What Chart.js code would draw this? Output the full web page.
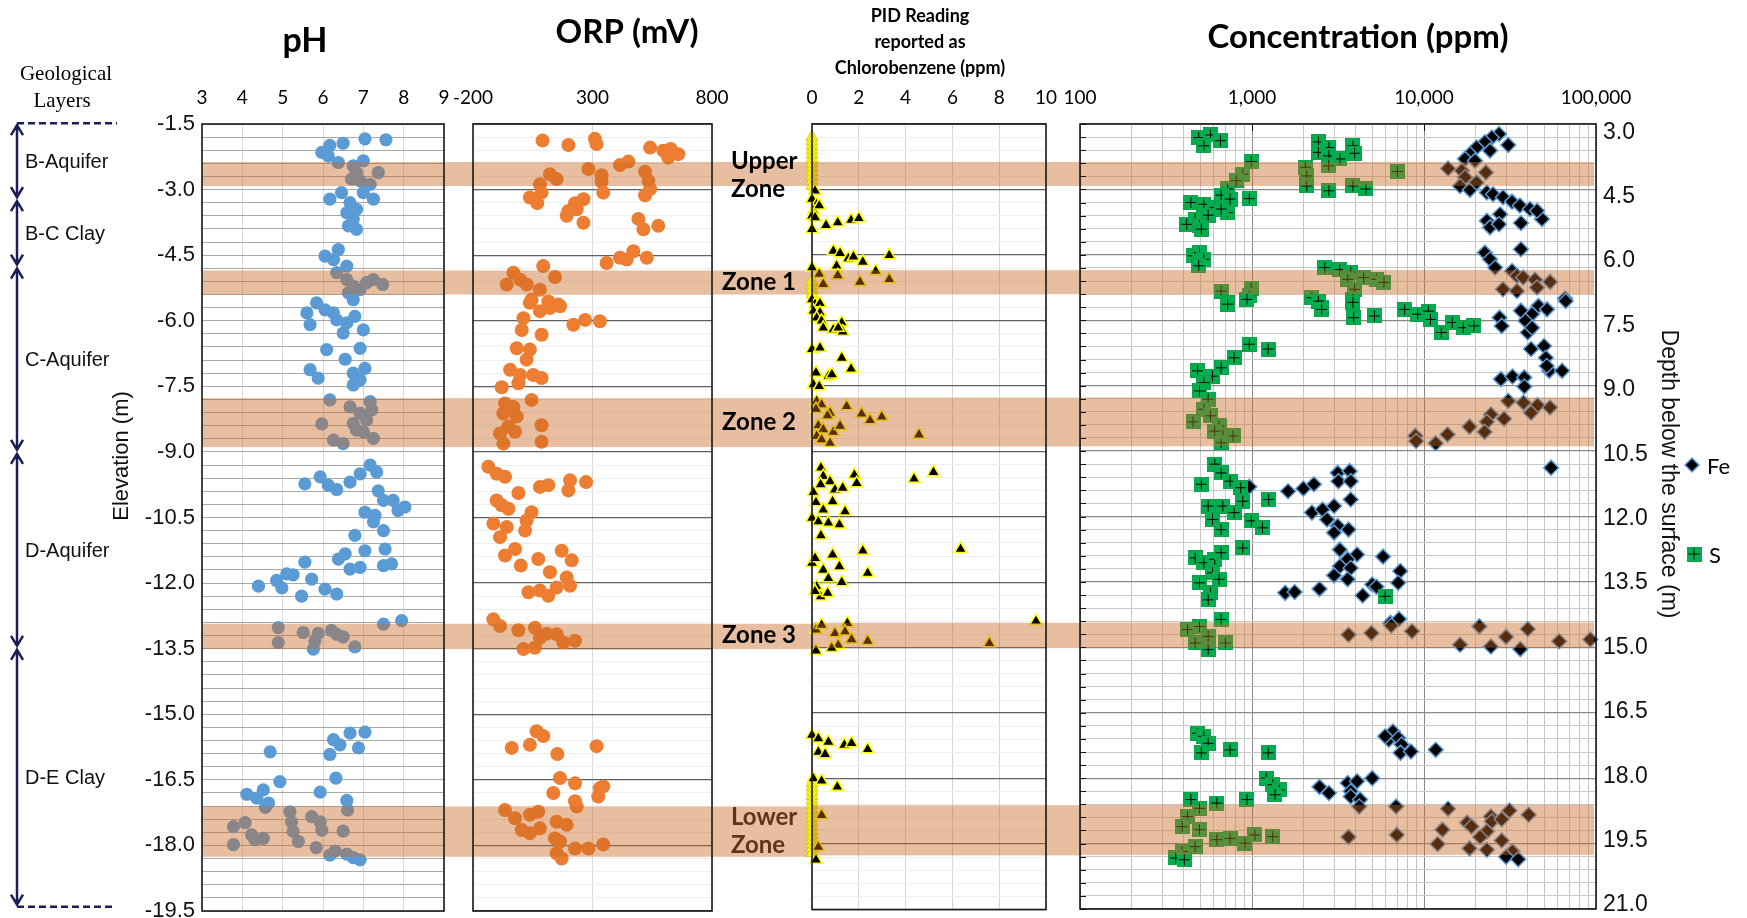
<!DOCTYPE html>
<html lang="en">
<head>
<meta charset="UTF-8">
<title>Geochemical depth profiles</title>
<script src="https://cdn.jsdelivr.net/npm/chart.js"></script>
<style>
  body { margin: 0; background: #fff; }
  #wrap { position: relative; width: 1747px; height: 918px; }
  #wrap canvas { position: absolute; left: 0; top: 0; }
</style>
</head>
<body>
<div id="wrap">
  <canvas id="phChart" width="1747" height="918"></canvas>
  <canvas id="orpChart" width="1747" height="918"></canvas>
  <canvas id="pidChart" width="1747" height="918"></canvas>
  <canvas id="concChart" width="1747" height="918"></canvas>
</div>
<script>
// ---- axis labels ----
const elevTicks = [-1.5, -3.0, -4.5, -6.0, -7.5, -9.0, -10.5, -12.0, -13.5, -15.0, -16.5, -18.0, -19.5];
const depthTicks = [3.0, 4.5, 6.0, 7.5, 9.0, 10.5, 12.0, 13.5, 15.0, 16.5, 18.0, 19.5, 21.0];
const concDecades = [100, 1000, 10000, 100000];
const concDecadeLabels = ['100', '1,000', '10,000', '100,000'];

// ---- zones (elevation, m) ----
const zoneNames = ['Upper\nZone', 'Zone 1', 'Zone 2', 'Zone 3', 'Lower\nZone'];
const zoneBands = [[-2.37, -2.92], [-4.85, -5.40], [-7.77, -8.89], [-12.93, -13.51], [-17.11, -18.26]];

// ---- geological layers ----
const layerNames = ['B-Aquifer', 'B-C Clay', 'C-Aquifer', 'D-Aquifer', 'D-E Clay'];
const layerBounds = [-1.48, -3.22, -4.76, -9.0, -13.48, -19.4];

// ---- pH [pH, elevation] ----
const phPoints = [
  [7.04,-1.84],[7.56,-1.86],[6.50,-1.94],[6.17,-1.99],[5.97,-2.15],[6.13,-2.23],[6.38,-2.38],[7.00,-2.34],[6.75,-2.46],[7.37,-2.61],
  [6.83,-2.61],[6.71,-2.76],[6.92,-2.80],[7.17,-2.88],[6.46,-3.07],[7.00,-3.07],[7.25,-3.22],[6.17,-3.22],[6.67,-3.30],[6.59,-3.53],
  [6.83,-3.45],[6.75,-3.68],[6.63,-3.83],[6.83,-3.91],
  [6.05,-4.52],[6.38,-4.37],[6.26,-4.60],[6.59,-4.75],[6.34,-4.90],[6.59,-5.06],[6.75,-5.21],[6.92,-5.29],[7.25,-5.06],[7.48,-5.17],
  [7.08,-5.13],[6.63,-5.36],[6.75,-5.52],
  [5.84,-5.59],[5.60,-5.82],[6.05,-5.75],[6.26,-5.82],[5.68,-6.09],[6.34,-5.98],[6.59,-6.05],[6.79,-5.90],[7.00,-6.21],[6.50,-6.28],
  [6.09,-6.66],[6.92,-6.63],[6.55,-6.88],[5.68,-7.12],[5.88,-7.31],[6.75,-7.20],[7.04,-7.09],[6.75,-7.47],[6.92,-7.35],
  [6.17,-7.81],[6.67,-7.97],[7.17,-7.85],[5.97,-8.36],[6.92,-8.12],[7.08,-8.27],[6.83,-8.50],[7.25,-8.69],[6.26,-8.73],[6.50,-8.81],
  [6.75,-8.35],[7.00,-8.54],[7.21,-8.04],
  [7.17,-9.30],[7.33,-9.46],[6.92,-9.50],[6.67,-9.69],[5.55,-9.73],[5.93,-9.57],[6.13,-9.76],[6.34,-9.86],[7.37,-9.89],[7.50,-10.11],
  [7.74,-10.11],[8.03,-10.26],[7.86,-10.34],[7.04,-10.38],[7.29,-10.45],[7.25,-10.60],[7.50,-10.80],[6.79,-10.91],[7.54,-11.22],[7.04,-11.26],
  [6.55,-11.33],[6.38,-11.45],[5.55,-11.52],[7.50,-11.60],[7.70,-11.56],[6.67,-11.68],[6.92,-11.64],[5.10,-11.79],[5.26,-11.81],[4.85,-11.94],
  [5.72,-11.91],[4.40,-12.07],[4.98,-12.11],[6.05,-12.14],[6.34,-12.25],[5.47,-12.30],
  [7.50,-12.94],[7.95,-12.86],[4.89,-13.02],[4.89,-13.36],[5.51,-13.13],[5.80,-13.32],[5.88,-13.15],[6.21,-13.08],[6.50,-13.23],[6.79,-13.46],
  [5.76,-13.51],[6.34,-13.17],
  [7.04,-15.41],[6.67,-15.43],[6.26,-15.58],[6.42,-15.70],[6.88,-15.77],[6.17,-15.92],[4.69,-15.86],[4.93,-16.54],[6.32,-16.46],[5.93,-16.78],
  [4.11,-16.83],[4.52,-16.73],[4.36,-16.92],[4.65,-17.03],[6.59,-16.97],[6.61,-17.19],[4.57,-17.13],[5.18,-17.23],[5.22,-17.46],[3.78,-17.57],
  [4.07,-17.48],[5.26,-17.68],[5.72,-17.34],[5.93,-17.46],[5.97,-17.65],[6.50,-17.67],[4.23,-17.76],[4.52,-17.84],[4.31,-17.87],[5.39,-17.91],
  [3.78,-17.98],[5.83,-18.05],[6.17,-18.22],[6.30,-18.13],[6.59,-18.20],[6.75,-18.28],[6.92,-18.33]
];

// ---- ORP [mV, elevation] ----
const orpPoints = [
  [91,-1.88],[199,-1.98],[310,-1.84],[317,-1.96],[541,-2.04],[596,-2.11],[627,-2.07],[659,-2.19],[617,-2.27],[415,-2.44],
  [450,-2.36],[283,-2.53],[338,-2.67],[520,-2.59],[534,-2.80],[541,-2.99],[520,-3.13],[122,-2.65],[150,-2.76],[80,-2.88],
  [338,-2.82],[345,-3.07],[38,-3.18],[69,-3.31],[87,-3.07],[262,-3.22],[227,-3.31],[199,-3.49],[192,-3.60],[234,-3.45],
  [262,-3.76],[492,-3.67],[513,-3.91],[575,-3.83],[527,-4.56],[471,-4.41],[415,-4.56],[443,-4.60],[359,-4.68],
  [94,-4.75],[-31,-4.90],[-59,-5.17],[-3,-5.06],[25,-5.17],[143,-5.00],[80,-5.29],[45,-5.52],[115,-5.56],[157,-5.63],
  [38,-5.59],[80,-5.78],[122,-5.71],[164,-5.67],[11,-5.94],[4,-6.21],[87,-6.32],[220,-6.09],[269,-5.98],[331,-6.01],
  [-17,-6.63],[38,-6.66],[24,-6.89],[-45,-7.12],[-3,-7.24],[52,-7.24],[87,-7.31],[-80,-7.52],[-10,-7.43],[-66,-7.89],
  [-31,-7.97],[45,-7.81],[-73,-8.12],[-17,-8.19],[-52,-8.42],[87,-8.39],[-87,-8.58],[-24,-8.54],[-73,-8.81],[87,-8.77],
  [-136,-9.34],[-101,-9.50],[-66,-9.57],[-10,-9.94],[80,-9.80],[115,-9.76],[199,-9.88],[206,-9.65],[273,-9.69],[-101,-10.11],
  [-52,-10.30],[-80,-10.22],[45,-10.38],[24,-10.57],[-115,-10.64],[-59,-10.72],[-87,-10.95],[18,-10.80],[-24,-11.22],[-66,-11.37],
  [171,-11.26],[213,-11.48],[0,-11.60],[73,-11.45],[122,-11.75],[192,-11.87],[206,-12.06],[32,-12.21],[80,-12.17],[115,-12.29],[150,-12.10],
  [-115,-12.83],[-87,-12.98],[-10,-13.08],[59,-13.02],[108,-13.16],[150,-13.17],[178,-13.36],[227,-13.32],[11,-13.51],[59,-13.48],[80,-13.25],
  [66,-15.39],[94,-15.50],[38,-15.70],[-38,-15.77],[153,-15.91],[317,-15.73],[164,-16.46],[227,-16.58],[136,-16.80],[331,-16.69],
  [345,-16.65],[324,-16.88],[227,-16.99],[234,-17.11],[-66,-17.19],[-24,-17.38],[38,-17.30],[73,-17.23],[4,-17.65],[38,-17.72],
  [80,-17.61],[150,-17.46],[192,-17.53],[143,-17.84],[164,-17.91],[227,-18.07],[283,-18.07],[345,-17.98],[171,-18.30],[150,-18.18]
];

// ---- PID as chlorobenzene [ppm, elevation] ----
const pidPoints = [
  [0.13,-3.03],[0,-3.22],[0.2,-3.34],[0.06,-3.49],[0.31,-3.37],[0,-3.60],[0.13,-3.64],[0,-3.91],[0.6,-3.82],[1.1,-3.76],
  [1.67,-3.70],[2.0,-3.66],[0.91,-4.41],[1.2,-4.46],[1.05,-4.75],[1.55,-4.58],[1.77,-4.54],[2.17,-4.66],[3.3,-4.51],[0,-4.79],
  [0.31,-4.94],[0.48,-5.17],[1.1,-4.97],[2.05,-5.12],[2.72,-4.87],[3.3,-5.06],[0,-5.52],[0.13,-5.63],[0.34,-5.61],[0.06,-5.78],
  [0.34,-5.82],[0.2,-5.94],[0.41,-6.01],[0.48,-6.17],[0.91,-6.21],[1.27,-6.05],[1.31,-6.26],[1.12,-6.17],[0,-6.66],[0.34,-6.63],
  [1.27,-6.86],[1.67,-7.11],[0.17,-7.20],[0.7,-7.28],[0.85,-7.24],[0.06,-7.47],[0.31,-7.51],
  [0.2,-7.85],[0.41,-7.93],[0.17,-8.03],[0.77,-8.12],[0.66,-8.18],[1.48,-7.97],[2.12,-8.14],[2.48,-8.29],[2.98,-8.21],[0.27,-8.41],
  [0.48,-8.50],[0.2,-8.65],[0.91,-8.56],[1.2,-8.42],[0.41,-8.73],[0.77,-8.81],[4.57,-8.62],
  [0.38,-9.38],[0.48,-9.57],[0.77,-9.69],[0.37,-9.76],[0.98,-9.88],[1.31,-9.84],[1.81,-9.54],[1.91,-9.73],[4.36,-9.63],[5.19,-9.48],
  [0.06,-9.94],[0.17,-10.17],[0.48,-10.34],[0.88,-10.15],[1.41,-10.38],[0,-10.53],[0.27,-10.61],[0.7,-10.64],[1.17,-10.68],[0.38,-10.93],
  [2.17,-11.28],[6.35,-11.24],[2.38,-11.79],[0,-11.56],[0.13,-11.45],[0.88,-11.37],[1.17,-11.64],[0.48,-11.72],[0.7,-11.91],[1.27,-12.00],
  [0.2,-12.10],[0.37,-12.33],[0.67,-12.25],[0.13,-12.21],
  [0.17,-13.09],[0.41,-12.98],[0.98,-13.17],[1.51,-12.94],[1.41,-13.13],[1.69,-13.31],[2.38,-13.35],[1.12,-13.44],[0.84,-13.51],[0.17,-13.57],
  [7.58,-13.40],[9.57,-12.89],
  [0,-15.50],[0.27,-15.58],[0.7,-15.66],[0.27,-15.89],[0.56,-15.94],[1.38,-15.73],[1.69,-15.69],[2.38,-15.83],[0.06,-16.50],[0.41,-16.55],
  [1.08,-16.69],[0.41,-17.34],[0.27,-18.07],[0.17,-18.36]
];
const pidZeroPoints = [
  [0,-1.80],[0,-1.90],[0,-2.00],[0,-2.10],[0,-2.20],[0,-2.30],[0,-2.40],[0,-2.50],[0,-2.60],[0,-2.70],[0,-2.80],[0,-2.92],
  [0,-5.10],[0,-5.20],[0,-5.30],[0,-5.40],
  [0,-16.60],[0,-16.70],[0,-16.80],[0,-16.90],[0,-17.00],[0,-17.10],[0,-17.20],[0,-17.30],[0,-17.40],[0,-17.50],
  [0,-17.60],[0,-17.70],[0,-17.80],[0,-17.90],[0,-18.00],[0,-18.10],[0,-18.20]
];

// ---- Fe [ppm, elevation] ----
const fePoints = [
  [27300,-1.73],[24800,-1.81],[30900,-1.98],[22600,-1.92],[20200,-2.04],[24200,-2.11],[18500,-2.19],[17300,-2.30],[19800,-2.34],[13800,-2.52],
  [16600,-2.57],[17300,-2.72],[22900,-2.61],[16200,-2.92],[18500,-3.01],[20200,-2.84],[23200,-3.07],[25200,-3.11],[28800,-3.18],[32500,-3.28],
  [36100,-3.37],[41300,-3.45],[48500,-3.68],[45400,-3.49],[27700,-3.57],[23200,-3.72],[24200,-3.87],[27300,-3.80],[36600,-3.77],
  [36600,-4.37],[22600,-4.45],[24200,-4.60],[25900,-4.79],[32500,-4.87],[34700,-4.98],[37700,-5.02],[28800,-5.29],[34700,-5.33],[44200,-5.07],
  [45400,-5.25],[54100,-5.12],[66100,-5.50],
  [66700,-5.56],[36600,-5.78],[46300,-5.67],[51900,-5.75],[42500,-5.86],[27500,-5.94],[28300,-6.13],[38900,-6.01],[40100,-6.28],[42500,-6.17],
  [41900,-6.66],[49900,-6.59],[51100,-6.86],[53500,-7.16],[63500,-7.16],[51700,-7.05],[28000,-7.35],[32700,-7.29],[38300,-7.31],[38300,-7.52],
  [30900,-7.85],[37900,-7.89],[45700,-7.95],[54000,-8.00],[41900,-8.12],[24500,-8.16],[29200,-8.26],[23200,-8.33],[18400,-8.44],[22500,-8.56],
  [13700,-8.62],[11700,-8.82],[8900,-8.65],[9000,-8.77],[54800,-9.38],
  [964,-9.82],[1620,-9.92],[1990,-9.86],[2290,-9.76],[3150,-9.50],[3700,-9.46],[3180,-9.69],[3750,-9.69],[3750,-10.11],[2230,-10.41],
  [2570,-10.34],[3000,-10.26],[2730,-10.57],[3150,-10.72],[3640,-10.80],[3000,-10.87],[3240,-11.26],[4080,-11.37],[5780,-11.42],[3600,-11.48],
  [3240,-11.64],[3750,-11.68],[3000,-11.85],[3600,-11.94],[5000,-12.06],[7280,-11.75],[7080,-12.02],[1560,-12.25],[1770,-12.23],[2470,-12.16],
  [4400,-12.31],[5290,-12.11],
  [6380,-12.94],[7160,-12.85],[6450,-13.00],[8510,-13.13],[3640,-13.21],[4950,-13.17],[16200,-13.44],[21000,-13.02],[24500,-13.48],[30000,-13.26],
  [40100,-13.08],[36300,-13.54],[61100,-13.36],[92700,-13.32],
  [6600,-15.43],[6240,-15.62],[7100,-15.58],[7410,-15.73],[7300,-15.92],[8400,-15.89],[5950,-15.54],[11700,-15.85],
  [2470,-16.70],[2800,-16.84],[3600,-16.61],[4080,-16.57],[5000,-16.50],[3750,-16.80],[3750,-16.92],[4250,-16.99],
  [4200,-17.15],[6880,-17.15],[13800,-17.20],[3640,-17.85],[6950,-17.80],[12800,-17.68],[12000,-18.01],[17800,-17.52],[18900,-17.61],[24500,-17.38],
  [24800,-17.49],[28300,-17.44],[31400,-17.24],[40600,-17.34],[23200,-17.72],[21200,-17.85],[18400,-18.11],[23200,-18.14],[28300,-17.93],[32700,-18.18],
  [30000,-18.30],[35300,-18.36]
];

// ---- S [ppm, elevation] ----
const sPoints = [
  [490,-1.81],[573,-1.75],[655,-1.88],[525,-2.00],[990,-2.36],[883,-2.65],[809,-2.80],[721,-2.99],[661,-3.13],[745,-3.22],
  [964,-3.21],[441,-3.30],[525,-3.34],[607,-3.41],[721,-3.53],[661,-3.45],[556,-3.59],[467,-3.68],[417,-3.80],[495,-3.83],
  [507,-3.91],[454,-4.52],[495,-4.45],[525,-4.60],[490,-4.75],
  [2430,-1.91],[2800,-2.04],[2430,-2.15],[2800,-2.23],[3240,-2.30],[3860,-2.00],[3950,-2.17],[2790,-2.46],[2040,-2.49],[2080,-2.69],
  [2080,-2.92],[2800,-3.03],[3860,-2.92],[4590,-2.99],[7000,-2.59],
  [2650,-4.79],[3240,-4.84],[3750,-4.90],[3600,-5.06],[4460,-5.02],[5290,-5.06],[5850,-5.13],[3950,-5.29],[3860,-5.52],[2230,-5.48],
  [2540,-5.71],[661,-5.33],[721,-5.59],[990,-5.27],[964,-5.44],
  [721,-5.63],[935,-5.52],[2430,-5.56],[2540,-5.75],[3860,-5.59],[3900,-5.94],[5150,-5.90],[7710,-5.75],[9180,-5.86],[10600,-5.79],
  [10900,-5.98],[12600,-6.28],[14600,-6.05],[16900,-6.17],[19500,-6.13],[964,-6.55],[1240,-6.66],[786,-6.86],[661,-7.09],[482,-7.16],
  [589,-7.28],[525,-7.43],[495,-7.62],[556,-7.81],[525,-8.04],[454,-8.33],[573,-8.19],[643,-8.42],[676,-8.65],[776,-8.65],
  [661,-8.81],[607,-8.54],
  [607,-9.30],[661,-9.50],[507,-9.76],[745,-9.69],[859,-9.84],[883,-10.15],[1250,-10.11],[556,-10.26],[676,-10.26],[786,-10.41],
  [990,-10.60],[1150,-10.76],[589,-10.57],[661,-10.80],[883,-11.22],[467,-11.45],[525,-11.56],[607,-11.48],[661,-11.33],[589,-11.79],
  [495,-12.02],[643,-11.94],[573,-12.25],[5940,-12.33],
  [556,-12.41],[661,-12.86],[422,-13.09],[495,-13.02],[556,-13.25],[467,-13.40],[556,-13.55],[700,-13.40],
  [482,-15.47],[525,-15.54],[556,-15.70],[507,-15.92],[745,-15.85],[1240,-15.92],[1210,-16.50],[1320,-16.65],[1440,-16.77],[1360,-16.88],
  [935,-16.99],[441,-16.99],[624,-17.07],[495,-17.19],[422,-17.38],[393,-17.61],[495,-17.68],[624,-17.91],[745,-17.88],[910,-17.99],
  [1040,-17.80],[1320,-17.84],[467,-18.07],[393,-18.18],[360,-18.33],[404,-18.37]
];

// ---- styling helpers ----
const SANS = '"Liberation Sans", Arial, sans-serif';
const CAL = 'Lato, "Open Sans", sans-serif';
const SERIF = '"Liberation Serif", "Times New Roman", serif';
const BAND_FILL = 'rgba(200,105,35,0.43)';
const NAVY = '#1c1f55';

function isMajor(v) {
  const r = v / 1.5;
  return Math.abs(r - Math.round(r)) < 1e-6;
}
function elevLabel(v) {
  const r = Math.round(v * 10) / 10;
  return elevTicks.some(t => Math.abs(t - r) < 1e-6) ? r.toFixed(1) : '';
}
function xy(points) {
  return points.map(p => ({ x: p[0], y: p[1] }));
}
// keep label overhang from shrinking the plot area, so all panels share one height
function fixVertical(width) {
  return s => { s.width = width; s.paddingTop = 0; s.paddingBottom = 0; };
}

function squareCross() {
  const c = document.createElement('canvas');
  c.width = 15; c.height = 15;
  const g = c.getContext('2d');
  g.fillStyle = '#00b050';
  g.fillRect(0, 0, 15, 15);
  g.strokeStyle = '#13a04a';
  g.lineWidth = 1;
  g.strokeRect(0.5, 0.5, 14, 14);
  g.strokeStyle = '#000';
  g.beginPath();
  g.moveTo(7.5, 2); g.lineTo(7.5, 13);
  g.moveTo(2, 7.5); g.lineTo(13, 7.5);
  g.stroke();
  return c;
}
const sMarker = squareCross();

// elevation axis shared by every panel
function elevAxis(showLabels, width, major, minor, majorW) {
  return {
    type: 'linear', position: 'left', min: -19.5, max: -1.5,
    afterFit: fixVertical(width),
    ticks: {
      stepSize: 0.3, autoSkip: false, display: showLabels, padding: 7,
      font: { family: SANS, size: 22 }, color: '#111',
      callback: v => elevLabel(v)
    },
    grid: {
      drawTicks: false,
      color: c => (c.tick && isMajor(c.tick.value)) ? major : minor,
      lineWidth: c => (c.tick && isMajor(c.tick.value)) ? majorW : 1
    },
    border: { display: false }
  };
}
function topAxis(min, max, step, gridColor) {
  return {
    type: 'linear', position: 'top', min: min, max: max,
    afterFit: s => { s.height = 60; },
    ticks: { stepSize: step, autoSkip: false, maxRotation: 0, padding: 15,
             font: { family: CAL, size: 19 }, color: '#000' },
    grid: { drawTicks: false, color: gridColor, lineWidth: 1 },
    border: { display: false }
  };
}

// ---- plugins ----
const framePlugin = {
  id: 'frame',
  afterDraw(chart) {
    const { ctx, chartArea: a } = chart;
    ctx.save();
    ctx.strokeStyle = '#1a1a1a';
    ctx.lineWidth = 1.6;
    ctx.strokeRect(a.left, a.top, a.right - a.left, a.bottom - a.top);
    ctx.restore();
  }
};

const bandPlugin = {
  id: 'bands',
  afterDatasetsDraw(chart, args, opts) {
    const { ctx, chartArea: a } = chart;
    const y = chart.scales.y;
    ctx.save();
    ctx.fillStyle = BAND_FILL;
    zoneBands.forEach(b => {
      const y1 = y.getPixelForValue(b[0]);
      const y2 = y.getPixelForValue(b[1]);
      ctx.fillRect(a.left, y1, opts.right - a.left, y2 - y1);
    });
    ctx.restore();
  }
};

const titlePlugin = {
  id: 'panelTitle',
  afterDraw(chart, args, opts) {
    const { ctx } = chart;
    ctx.save();
    ctx.fillStyle = '#000';
    ctx.textAlign = 'center';
    ctx.textBaseline = 'alphabetic';
    ctx.font = opts.font;
    opts.lines.forEach((t, i) => ctx.fillText(t, opts.x, opts.y + i * (opts.gap || 0)));
    ctx.restore();
  }
};

const geologyPlugin = {
  id: 'geology',
  afterDraw(chart) {
    const { ctx } = chart;
    const y = chart.scales.y;
    ctx.save();
    ctx.fillStyle = '#000';
    ctx.textAlign = 'center';
    ctx.font = `21px ${SERIF}`;
    ctx.fillText('Geological', 66, 80);
    ctx.fillText('Layers', 62, 107);

    const X = 17;
    ctx.strokeStyle = NAVY;
    ctx.lineWidth = 2.5;
    const top = y.getPixelForValue(layerBounds[0]);
    const bot = y.getPixelForValue(layerBounds[layerBounds.length - 1]);
    ctx.setLineDash([7, 4]);
    ctx.beginPath();
    ctx.moveTo(X, top); ctx.lineTo(117, top);
    ctx.moveTo(X, bot); ctx.lineTo(112, bot);
    ctx.stroke();
    ctx.setLineDash([]);

    ctx.font = `20px ${SANS}`;
    ctx.textAlign = 'left';
    layerNames.forEach((name, i) => {
      const y1 = y.getPixelForValue(layerBounds[i]) + 2;
      const y2 = y.getPixelForValue(layerBounds[i + 1]) - 2;
      ctx.beginPath();
      ctx.moveTo(X, y1); ctx.lineTo(X, y2);
      ctx.moveTo(X - 6, y1 + 10); ctx.lineTo(X, y1); ctx.lineTo(X + 6, y1 + 10);
      ctx.moveTo(X - 6, y2 - 10); ctx.lineTo(X, y2); ctx.lineTo(X + 6, y2 - 10);
      ctx.stroke();
      ctx.fillStyle = '#111';
      ctx.fillText(name, 25, (y1 + y2) / 2 + 7);
    });

    ctx.translate(122, 456);
    ctx.rotate(-Math.PI / 2);
    ctx.textAlign = 'center';
    ctx.textBaseline = 'middle';
    ctx.font = `22px ${SANS}`;
    ctx.fillStyle = '#111';
    ctx.fillText('Elevation (m)', 0, 0);
    ctx.restore();
  }
};

const zoneLabelPlugin = {
  id: 'zoneLabels',
  afterDraw(chart) {
    const { ctx } = chart;
    const y = chart.scales.y;
    ctx.save();
    ctx.font = `bold 24px ${CAL}`;
    zoneNames.forEach((name, i) => {
      const mid = (y.getPixelForValue(zoneBands[i][0]) + y.getPixelForValue(zoneBands[i][1])) / 2;
      const lines = name.split('\n');
      ctx.fillStyle = name.startsWith('Lower') ? '#5e3716' : '#000';
      if (lines.length > 1) {
        ctx.textAlign = 'left';
        ctx.fillText(lines[0], 731, mid - 5);
        ctx.fillText(lines[1], 731, mid + 23);
      } else {
        ctx.textAlign = 'right';
        ctx.fillText(name, 796, mid + 8);
      }
    });
    ctx.restore();
  }
};

const concExtrasPlugin = {
  id: 'concExtras',
  afterDraw(chart) {
    const { ctx, chartArea: a } = chart;
    const y = chart.scales.y, x = chart.scales.x;
    ctx.save();
    // inner tick marks
    ctx.strokeStyle = '#111';
    ctx.lineWidth = 1;
    ctx.beginPath();
    y.ticks.forEach(t => {
      const py = Math.round(y.getPixelForValue(t.value)) + 0.5;
      ctx.moveTo(a.left, py); ctx.lineTo(a.left + 6, py);
    });
    [1000, 10000].forEach(v => {
      const px = Math.round(x.getPixelForValue(v)) + 0.5;
      ctx.moveTo(px, a.top); ctx.lineTo(px, a.top + 7);
    });
    ctx.stroke();

    // depth axis title
    ctx.save();
    ctx.translate(1668, 474);
    ctx.rotate(Math.PI / 2);
    ctx.font = `23px ${SANS}`;
    ctx.fillStyle = '#111';
    ctx.textAlign = 'center';
    ctx.textBaseline = 'middle';
    ctx.fillText('Depth below the surface (m)', 0, 0);
    ctx.restore();

    // legend
    ctx.font = `22px ${CAL}`;
    ctx.textAlign = 'left';
    ctx.textBaseline = 'middle';
    ctx.fillStyle = '#000';
    ctx.strokeStyle = '#5b9bd5';
    ctx.lineWidth = 1.5;
    ctx.beginPath();
    ctx.moveTo(1692, 458); ctx.lineTo(1699, 465); ctx.lineTo(1692, 472); ctx.lineTo(1685, 465); ctx.closePath();
    ctx.fill(); ctx.stroke();
    ctx.fillText(chart.data.datasets[1].label, 1707, 467);
    ctx.drawImage(sMarker, 1694 - 7.5, 554 - 7.5);
    ctx.fillText(chart.data.datasets[0].label, 1709, 556);
    ctx.restore();
  }
};

const AREA_TOP = 124, AREA_BOTTOM = 911, CW = 1747, CH = 918;
function pad(left, right, leftAxisW, rightAxisW) {
  return { left: left - leftAxisW, right: CW - right - rightAxisW, top: AREA_TOP - 60, bottom: CH - AREA_BOTTOM };
}
function baseOptions(padding, scales, plugins) {
  return {
    responsive: false, animation: false, events: [], devicePixelRatio: 1,
    layout: { padding: padding },
    scales: scales,
    plugins: Object.assign({ legend: { display: false }, tooltip: { enabled: false } }, plugins)
  };
}

// ---- pH ----
new Chart(document.getElementById('phChart'), {
  type: 'scatter',
  data: { datasets: [{
    label: 'pH', data: xy(phPoints), clip: false,
    pointStyle: 'circle', pointRadius: 6.6, pointBorderWidth: 0,
    backgroundColor: '#5b9bd5', borderColor: '#5b9bd5'
  }] },
  options: baseOptions(pad(202, 444, 100, 0), {
    x: topAxis(3, 9, 1, '#d9d9d9'),
    y: elevAxis(true, 100, '#a8a8a8', '#a8a8a8', 1)
  }, {
    bands: { right: 473 },
    panelTitle: { lines: ['pH'], x: 305, y: 52, font: `bold 34px ${CAL}` }
  }),
  plugins: [bandPlugin, framePlugin, titlePlugin, geologyPlugin]
});

// ---- ORP ----
new Chart(document.getElementById('orpChart'), {
  type: 'scatter',
  data: { datasets: [{
    label: 'ORP', data: xy(orpPoints), clip: false,
    pointStyle: 'circle', pointRadius: 7, pointBorderWidth: 0,
    backgroundColor: '#ed7d31', borderColor: '#ed7d31'
  }] },
  options: baseOptions(pad(473, 712, 0, 0), {
    x: topAxis(-200, 800, 500, '#d9d9d9'),
    y: elevAxis(false, 0, '#5f5f5f', '#eeeeee', 1.3)
  }, {
    bands: { right: 812 },
    panelTitle: { lines: ['ORP (mV)'], x: 627, y: 43, font: `bold 33px ${CAL}` }
  }),
  plugins: [bandPlugin, framePlugin, titlePlugin]
});

// ---- PID ----
new Chart(document.getElementById('pidChart'), {
  type: 'scatter',
  data: { datasets: [
    {
      label: 'PID', data: xy(pidPoints), clip: false,
      pointStyle: 'triangle', pointRadius: 7, pointBorderWidth: 1.5,
      backgroundColor: '#000000', borderColor: '#ffff00'
    },
    {
      label: 'PID (0)', data: xy(pidZeroPoints), clip: false,
      pointStyle: 'triangle', pointRadius: 7, pointBorderWidth: 0.7,
      backgroundColor: '#ffff00', borderColor: '#c8b900'
    }
  ] },
  options: baseOptions(pad(812, 1046, 0, 0), {
    x: topAxis(0, 10, 2, '#d4d4d4'),
    y: elevAxis(false, 0, '#5f5f5f', '#eeeeee', 1.3)
  }, {
    bands: { right: 1080 },
    panelTitle: { lines: ['PID Reading', 'reported as', 'Chlorobenzene (ppm)'], x: 920, y: 22, gap: 26, font: `bold 18px ${CAL}` }
  }),
  plugins: [bandPlugin, framePlugin, titlePlugin, zoneLabelPlugin]
});

// ---- Concentration ----
const concGridTicks = [];
[100, 1000, 10000].forEach(d => { for (let m = 1; m < 10; m++) concGridTicks.push(m * d); });
concGridTicks.push(100000);

new Chart(document.getElementById('concChart'), {
  type: 'scatter',
  data: { datasets: [
    {
      label: 'S', data: xy(sPoints), clip: false,
      pointStyle: sMarker, pointRadius: 7,
      backgroundColor: '#00b050', borderColor: '#00b050'
    },
    {
      label: 'Fe', data: xy(fePoints), clip: false,
      pointStyle: 'rectRot', pointRadius: 7.5, pointBorderWidth: 1.5,
      backgroundColor: '#000000', borderColor: '#5b9bd5'
    }
  ] },
  options: baseOptions(pad(1080, 1596, 0, 84), {
    x: {
      type: 'logarithmic', position: 'top', min: 100, max: 100000,
      afterFit: s => { s.height = 60; },
      afterBuildTicks: s => { s.ticks = concGridTicks.map(v => ({ value: v })); },
      ticks: {
        autoSkip: false, maxRotation: 0, padding: 15,
        font: { family: CAL, size: 19 }, color: '#000',
        callback: v => { const i = concDecades.indexOf(v); return i >= 0 ? concDecadeLabels[i] : ''; }
      },
      grid: {
        drawTicks: false,
        color: c => (c.tick && concDecades.includes(c.tick.value)) ? '#8a8a8a' : '#c9c9c9',
        lineWidth: 1
      },
      border: { display: false }
    },
    y: elevAxis(false, 0, '#8a8a8a', '#c9c9c9', 1.2),
    depth: {
      type: 'linear', position: 'right', reverse: true, min: 2.81, max: 21.09,
      afterFit: fixVertical(84),
      afterBuildTicks: s => { s.ticks = depthTicks.map(v => ({ value: v })); },
      ticks: { autoSkip: false, padding: 7, font: { family: SANS, size: 23 }, color: '#111',
               callback: v => v.toFixed(1) },
      grid: { display: false, drawTicks: false },
      border: { display: false }
    }
  }, {
    bands: { right: 1594 },
    panelTitle: { lines: ['Concentration (ppm)'], x: 1358, y: 48, font: `bold 33px ${CAL}` }
  }),
  plugins: [bandPlugin, framePlugin, titlePlugin, concExtrasPlugin]
});
</script>
</body>
</html>
